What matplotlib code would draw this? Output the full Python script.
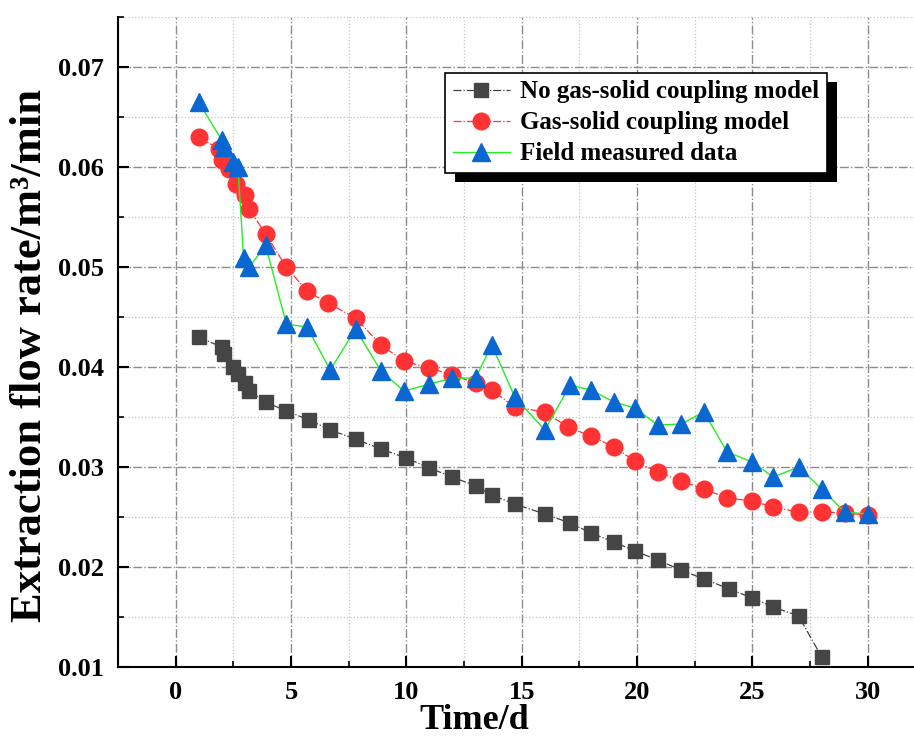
import matplotlib
matplotlib.use('Agg')
import matplotlib.pyplot as plt
from matplotlib.patches import Rectangle
from matplotlib.ticker import MultipleLocator

# -- data --
t_nocoup = [1, 2, 2.1, 2.5, 2.7, 3, 3.2, 3.9, 4.8, 5.8, 6.7, 7.8, 8.9, 10, 11, 12,
            13, 13.7, 14.7, 16, 17.1, 18, 19, 19.9, 20.9, 21.9, 22.9, 24, 25, 25.9,
            27, 28]
q_nocoup = [0.0430, 0.0420, 0.0413, 0.0400, 0.0393, 0.0384, 0.0376, 0.0365, 0.0356,
            0.0347, 0.0337, 0.0328, 0.0318, 0.0309, 0.0299, 0.0290, 0.0281, 0.0272,
            0.0263, 0.0253, 0.0244, 0.0234, 0.0225, 0.0216, 0.0207, 0.0197, 0.0188,
            0.0178, 0.0169, 0.0160, 0.0151, 0.0110]

t_coup = [1, 1.9, 2.0, 2.3, 2.6, 3.0, 3.2, 3.9, 4.8, 5.7, 6.6, 7.8, 8.9, 9.9, 11, 12,
          13, 13.7, 14.7, 16, 17, 18, 19, 19.9, 20.9, 21.9, 22.9, 23.9, 25, 25.9, 27,
          28, 29, 30]
q_coup = [0.0630, 0.0618, 0.0607, 0.0598, 0.0583, 0.0572, 0.0558, 0.0533, 0.0500,
          0.0476, 0.0464, 0.0449, 0.0422, 0.0406, 0.0399, 0.0392, 0.0384, 0.0377,
          0.0360, 0.0355, 0.0340, 0.0331, 0.0320, 0.0306, 0.0295, 0.0286, 0.0278,
          0.0269, 0.0266, 0.0260, 0.0255, 0.0255, 0.0254, 0.0252]

t_field = [1, 2.0, 2.1, 2.5, 2.7, 2.95, 3.2, 3.9, 4.8, 5.7, 6.7, 7.8, 8.9, 9.9, 11,
           12, 13, 13.7, 14.7, 16, 17.1, 18, 19, 19.9, 20.9, 21.9, 22.9, 23.9, 25,
           25.9, 27, 28, 29, 30]
q_field = [0.0665, 0.0627, 0.0620, 0.0605, 0.0600, 0.0509, 0.0500, 0.0522, 0.0443,
           0.0440, 0.0397, 0.0438, 0.0396, 0.0376, 0.0383, 0.0389, 0.0389, 0.0422,
           0.0370, 0.0337, 0.0382, 0.0377, 0.0365, 0.0359, 0.0342, 0.0343, 0.0355,
           0.0315, 0.0305, 0.0290, 0.0300, 0.0278, 0.0255, 0.0253]

labels = ['No gas-solid coupling model', 'Gas-solid coupling model',
          'Field measured data']

plt.rcParams['font.family'] = ['Liberation Serif', 'DejaVu Serif']
plt.rcParams['font.weight'] = 'bold'

fig = plt.figure(figsize=(9.14, 7.44), dpi=100)
ax = fig.add_axes([0.129, 0.1035, 0.871, 0.8735])

ax.plot(t_nocoup, q_nocoup, color='#404040', ls='-.', lw=0.9,
        marker='s', ms=10, mfc='#454545', mec='#454545', label=labels[0], zorder=3)
ax.plot(t_coup, q_coup, color='#ff3333', ls='-.', lw=0.9,
        marker='o', ms=12, mfc='#ff3333', mec='#ff3333', label=labels[1], zorder=4)
ax.plot(t_field, q_field, color='#22ee22', ls='-', lw=1.0,
        marker='^', ms=13, mfc='#0a66d0', mec='#0a66d0', label=labels[2], zorder=5)

ax.set_xlim(-2.5, 32)
ax.set_ylim(0.01, 0.075)
ax.xaxis.set_major_locator(MultipleLocator(5))
ax.xaxis.set_minor_locator(MultipleLocator(2.5))
ax.yaxis.set_minor_locator(MultipleLocator(0.005))
ax.set_yticks([0.01, 0.02, 0.03, 0.04, 0.05, 0.06, 0.07])
ax.set_yticklabels(['0.01', '0.02', '0.03', '0.04', '0.05', '0.06', '0.07'])

ax.grid(True, which='major', color='#8c8c8c', ls='-.', lw=1.0)
ax.grid(True, which='minor', color='#c4c4c4', ls=':', lw=0.9)
ax.set_axisbelow(True)

for side in ['top', 'right']:
    ax.spines[side].set_visible(False)
for side in ['left', 'bottom']:
    ax.spines[side].set_linewidth(1.5)

ax.tick_params(which='major', direction='in', length=8, width=1.5,
               labelsize=19, pad=10)
ax.tick_params(which='minor', direction='in', length=4, width=1.2)

ax.set_xlabel('Time/d', fontsize=26, fontweight='bold')
ax.xaxis.set_label_coords(0.447, -0.057)
ax.set_ylabel('Extraction flow rate/m³/min', fontsize=32, fontweight='bold')
ax.yaxis.set_label_coords(-0.085, 0.48)

leg = ax.legend(loc='upper left', bbox_to_anchor=(0.487, 0.902),
                bbox_transform=fig.transFigure, fontsize=18, frameon=True,
                fancybox=False, edgecolor='black', framealpha=1,
                handlelength=2.3, labelspacing=0.32, borderpad=0.3,
                handletextpad=0.4, borderaxespad=0)
leg.get_frame().set_linewidth(1.2)
leg.set_zorder(10)

# black drop shadow behind the legend box
fig.canvas.draw()
bb = leg.get_window_extent().transformed(ax.transAxes.inverted())
dx = 10 / (fig.bbox.width * 0.871)
dy = 9 / (fig.bbox.height * 0.8735)
ax.add_patch(Rectangle((bb.x0 + dx, bb.y0 - dy), bb.width, bb.height,
                       transform=ax.transAxes, facecolor='black',
                       edgecolor='none', zorder=9, clip_on=False))

fig.savefig('out.png', dpi=100)
